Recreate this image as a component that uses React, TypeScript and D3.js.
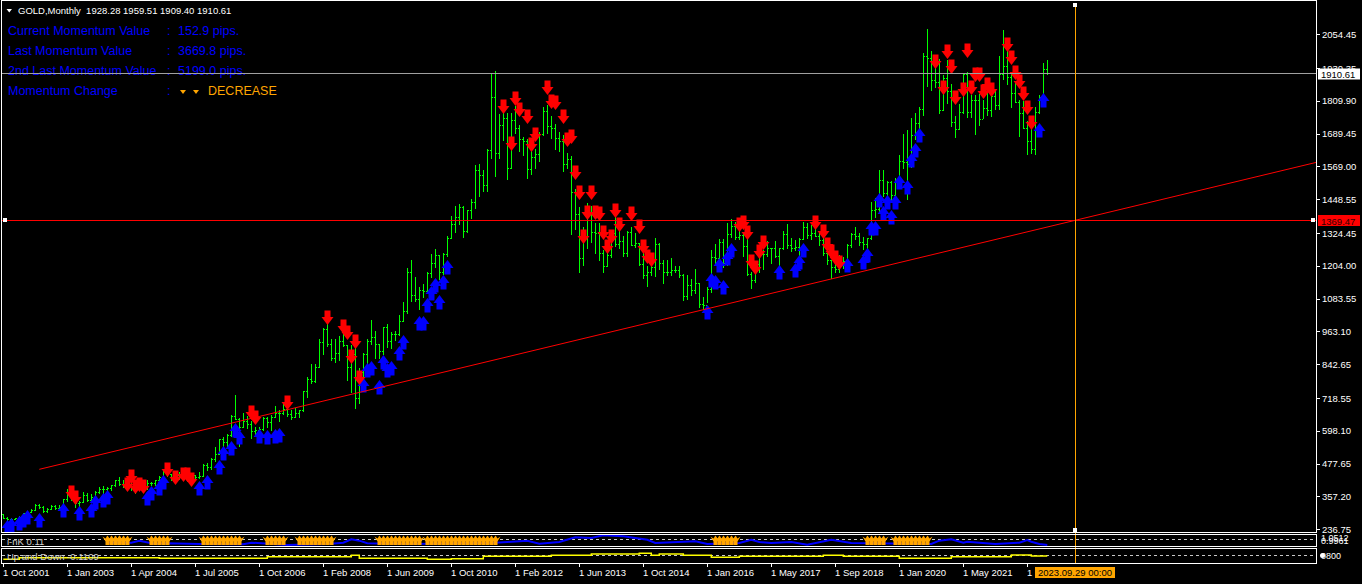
import React from 'react';
import * as d3 from 'd3';

const W = 1362;
const H = 584;

// monthly GOLD bars [open, high, low, close], Oct 2001 .. Feb 2023 (broker feed, 262 bars)
const bars: [number, number, number, number][] = [
  [293, 293, 278, 279], [279, 283, 272, 275], [275, 280, 271, 276], [276, 280, 274, 277],
  [277, 286, 276, 282], [282, 298, 282, 297], [297, 305, 288, 301], [301, 310, 300, 308],
  [308, 328, 307, 326], [326, 330, 315, 318], [318, 322, 302, 304], [304, 315, 301, 312],
  [312, 327, 311, 324], [324, 326, 313, 316], [316, 326, 314, 318], [318, 349, 316, 347],
  // 2003
  [347, 383, 342, 368], [368, 389, 343, 348], [348, 352, 320, 334], [334, 341, 320, 337],
  [337, 372, 336, 364], [364, 371, 340, 346], [346, 368, 342, 354], [354, 377, 354, 375],
  [375, 391, 370, 385], [385, 397, 370, 386], [386, 392, 378, 388], [388, 400, 381, 398],
  [398, 417, 396, 416], [416, 427, 399, 403], [403, 418, 393, 396], [396, 429, 394, 426],
  // 2004
  [426, 427, 381, 387], [387, 396, 371, 394], [394, 398, 386, 394], [394, 408, 386, 391],
  [391, 416, 386, 408], [408, 412, 400, 407], [407, 419, 399, 416], [416, 434, 412, 429],
  [429, 456, 424, 452], [452, 456, 431, 438], [438, 439, 419, 422], [422, 438, 411, 435],
  [435, 447, 423, 428], [428, 438, 421, 436], [436, 437, 414, 417], [417, 443, 414, 435],
  // 2005
  [435, 437, 418, 429], [429, 447, 426, 433], [433, 476, 432, 473], [473, 480, 456, 465],
  [465, 497, 459, 495], [495, 540, 489, 513], [513, 570, 513, 569], [569, 574, 538, 556],
  [556, 587, 535, 582], [582, 655, 580, 654], [654, 731, 640, 643], [643, 646, 543, 613],
  [613, 663, 611, 633], [633, 652, 610, 624], [624, 633, 573, 599], [599, 612, 580, 600],
  // 2006
  [600, 611, 560, 604], [604, 650, 603, 646], [646, 649, 612, 632], [632, 656, 603, 650],
  [650, 690, 649, 665], [665, 674, 636, 662], [662, 697, 660, 680], [680, 694, 652, 659],
  [659, 673, 640, 650], [650, 684, 648, 665], [665, 676, 649, 673], [673, 745, 671, 743],
  [743, 795, 723, 790], [790, 845, 775, 783], [783, 842, 777, 834], [834, 934, 833, 923],
  // 2008
  [923, 975, 882, 972], [972, 1033, 910, 916], [916, 934, 860, 864], [864, 935, 852, 885],
  [885, 945, 859, 930], [930, 988, 910, 913], [913, 915, 786, 833], [833, 912, 740, 880],
  [880, 935, 681, 718], [718, 830, 700, 815], [815, 885, 756, 882], [882, 935, 805, 928],
  [928, 1006, 917, 942], [942, 964, 866, 916], [916, 917, 865, 891], [891, 981, 880, 979],
  // 2009
  [979, 990, 908, 927], [927, 960, 904, 954], [954, 965, 931, 955], [955, 1024, 949, 1001],
  [1001, 1070, 1001, 1040], [1040, 1195, 1032, 1180], [1180, 1227, 1075, 1096], [1096, 1162, 1076, 1081],
  [1081, 1127, 1044, 1116], [1116, 1136, 1088, 1113], [1113, 1180, 1113, 1179], [1179, 1249, 1162, 1213],
  [1213, 1265, 1201, 1244], [1244, 1245, 1155, 1181], [1181, 1251, 1176, 1248], [1248, 1313, 1242, 1307],
  // 2010
  [1307, 1388, 1306, 1359], [1359, 1424, 1330, 1385], [1385, 1431, 1357, 1421], [1421, 1424, 1309, 1332],
  [1332, 1411, 1330, 1409], [1409, 1448, 1381, 1439], [1439, 1575, 1417, 1556], [1556, 1577, 1462, 1536],
  [1536, 1556, 1478, 1500], [1500, 1632, 1478, 1628], [1628, 1913, 1600, 1826], [1826, 1921, 1535, 1620],
  [1620, 1761, 1600, 1722], [1722, 1804, 1668, 1746], [1746, 1764, 1523, 1565], [1565, 1764, 1563, 1738],
  // 2012
  [1738, 1791, 1692, 1710], [1710, 1720, 1627, 1669], [1669, 1676, 1613, 1664], [1664, 1669, 1527, 1560],
  [1560, 1640, 1540, 1604], [1604, 1634, 1564, 1614], [1614, 1694, 1589, 1688], [1688, 1788, 1686, 1772],
  [1772, 1796, 1693, 1719], [1719, 1755, 1672, 1711], [1711, 1724, 1635, 1675], [1675, 1697, 1626, 1663],
  [1663, 1684, 1554, 1578], [1578, 1617, 1562, 1595], [1595, 1607, 1321, 1476], [1476, 1488, 1338, 1393],
  // 2013
  [1393, 1420, 1180, 1234], [1234, 1348, 1207, 1313], [1313, 1434, 1271, 1395], [1395, 1425, 1291, 1327],
  [1327, 1362, 1251, 1323], [1323, 1361, 1227, 1250], [1250, 1262, 1181, 1202], [1202, 1280, 1202, 1244],
  [1244, 1332, 1238, 1326], [1326, 1392, 1277, 1284], [1284, 1331, 1268, 1295], [1295, 1315, 1240, 1250],
  [1250, 1332, 1240, 1327], [1327, 1345, 1281, 1282], [1282, 1323, 1273, 1287], [1287, 1288, 1206, 1210],
  // 2014
  [1210, 1255, 1161, 1171], [1171, 1204, 1131, 1182], [1182, 1239, 1170, 1199], [1199, 1307, 1167, 1283],
  [1283, 1287, 1191, 1213], [1213, 1225, 1142, 1183], [1183, 1224, 1170, 1183], [1183, 1232, 1169, 1190],
  [1190, 1205, 1180, 1190], [1190, 1205, 1162, 1172], [1172, 1175, 1077, 1095], [1095, 1170, 1084, 1134],
  [1134, 1157, 1098, 1115], [1115, 1191, 1106, 1142], [1142, 1143, 1053, 1065], [1065, 1088, 1046, 1061],
  // 2016
  [1061, 1127, 1071, 1118], [1118, 1263, 1107, 1238], [1238, 1283, 1208, 1234], [1234, 1304, 1208, 1293],
  [1293, 1303, 1200, 1215], [1215, 1362, 1208, 1322], [1322, 1375, 1310, 1350], [1350, 1367, 1301, 1309],
  [1309, 1352, 1302, 1316], [1316, 1326, 1241, 1277], [1277, 1338, 1171, 1173], [1173, 1180, 1123, 1152],
  [1152, 1220, 1146, 1211], [1211, 1264, 1180, 1249], [1249, 1262, 1194, 1249], [1249, 1296, 1241, 1268],
  // 2017
  [1268, 1270, 1214, 1268], [1268, 1296, 1237, 1242], [1242, 1270, 1205, 1269], [1269, 1331, 1265, 1322],
  [1322, 1357, 1271, 1280], [1280, 1306, 1260, 1271], [1271, 1299, 1264, 1275], [1275, 1307, 1236, 1303],
  [1303, 1366, 1302, 1345], [1345, 1362, 1307, 1318], [1318, 1356, 1303, 1325], [1325, 1366, 1315, 1315],
  [1315, 1326, 1282, 1298], [1298, 1309, 1245, 1253], [1253, 1266, 1211, 1224], [1224, 1227, 1160, 1201],
  // 2018
  [1201, 1214, 1180, 1192], [1192, 1243, 1182, 1215], [1215, 1237, 1196, 1222], [1222, 1284, 1221, 1282],
  [1282, 1326, 1275, 1321], [1321, 1347, 1303, 1313], [1313, 1324, 1281, 1292], [1292, 1310, 1266, 1284],
  [1284, 1306, 1267, 1305], [1305, 1439, 1301, 1409], [1409, 1453, 1382, 1413], [1413, 1555, 1400, 1520],
  [1520, 1557, 1459, 1472], [1472, 1517, 1458, 1511], [1511, 1516, 1445, 1464], [1464, 1525, 1459, 1517],
  // 2020
  [1517, 1611, 1517, 1589], [1589, 1689, 1563, 1585], [1585, 1704, 1451, 1577], [1577, 1747, 1567, 1686],
  [1686, 1765, 1670, 1730], [1730, 1789, 1671, 1781], [1781, 1984, 1757, 1975], [1975, 2075, 1863, 1967],
  [1967, 1992, 1849, 1886], [1886, 1933, 1860, 1879], [1879, 1965, 1764, 1776], [1776, 1906, 1775, 1895],
  [1895, 1959, 1803, 1848], [1848, 1872, 1717, 1734], [1734, 1756, 1677, 1708], [1708, 1798, 1705, 1769],
  // 2021
  [1769, 1913, 1766, 1907], [1907, 1917, 1751, 1770], [1770, 1833, 1750, 1814], [1814, 1832, 1688, 1814],
  [1814, 1835, 1722, 1743], [1743, 1814, 1746, 1783], [1783, 1877, 1759, 1775], [1775, 1831, 1753, 1829],
  [1829, 1853, 1780, 1796], [1796, 1974, 1780, 1909], [1909, 2070, 1890, 1937], [1937, 1998, 1872, 1897],
  [1897, 1910, 1787, 1838], [1838, 1880, 1805, 1807], [1807, 1814, 1681, 1766], [1766, 1808, 1709, 1711],
  // 2022
  [1711, 1735, 1615, 1661], [1661, 1729, 1617, 1633], [1633, 1786, 1616, 1768], [1768, 1833, 1765, 1824],
  [1824, 1949, 1823, 1928], [1928.28, 1959.51, 1909.4, 1910.61],
];

const timeTicks: [number, string][] = [
  [0, '1 Oct 2001'], [16, '1 Jan 2003'], [32, '1 Apr 2004'], [48, '1 Jul 2005'],
  [64, '1 Oct 2006'], [80, '1 Feb 2008'], [96, '1 Jun 2009'], [112, '1 Oct 2010'],
  [128, '1 Feb 2012'], [144, '1 Jun 2013'], [160, '1 Oct 2014'], [176, '1 Jan 2016'],
  [192, '1 May 2017'], [208, '1 Sep 2018'], [224, '1 Jan 2020'], [240, '1 May 2021'],
  [256, '1 Sep 2022'],
];

const priceTicks = [
  2054.45, 1930.35, 1809.9, 1689.45, 1569.0, 1448.55, 1324.45, 1204.0,
  1083.55, 963.1, 842.65, 718.55, 598.1, 477.65, 357.2, 236.75,
];

// signal arrows [bar, price]
const upArrows: [number, number][] = [
  [1, 245], [2, 252], [4, 260], [5, 271], [6, 282], [9, 271], [15, 307], [19, 296], [22, 307],
  [23, 337], [25, 344], [26, 355], [36, 351], [37, 370], [39, 388], [40, 410], [49, 388],
  [51, 410], [54, 465], [55, 517], [57, 535], [58, 601], [59, 576], [64, 580], [66, 575],
  [68, 580], [69, 582], [90, 767], [91, 822], [92, 829], [94, 759], [95, 851], [96, 822],
  [97, 829], [99, 884], [100, 924], [104, 994], [105, 994], [106, 1060], [107, 1104],
  [108, 1134], [109, 1071], [110, 1145], [111, 1200], [176, 1035], [177, 1152], [178, 1145],
  [179, 1207], [180, 1126], [181, 1233], [182, 1262], [194, 1181], [198, 1189], [199, 1218],
  [200, 1262], [211, 1207], [215, 1218], [216, 1244], [217, 1343], [218, 1343], [219, 1446],
  [220, 1398], [221, 1439], [222, 1383], [223, 1439], [224, 1512], [226, 1494], [227, 1593],
  [228, 1630], [229, 1685], [259, 1703], [260, 1813],
];

const downArrows: [number, number][] = [
  [17, 370], [18, 351], [31, 399], [32, 429], [33, 392], [34, 399], [35, 392], [41, 454],
  [43, 425], [45, 436], [46, 436], [47, 418], [62, 664], [63, 645], [71, 700], [81, 1013],
  [85, 980], [86, 957], [87, 869], [88, 924], [89, 792], [125, 1786], [127, 1652], [128, 1818],
  [129, 1776], [131, 1751], [132, 1648], [133, 1685], [136, 1857], [137, 1807], [138, 1802],
  [140, 1752], [141, 1666], [142, 1678], [143, 1546], [144, 1472], [145, 1310], [146, 1398],
  [147, 1472], [148, 1398], [149, 1394], [150, 1325], [151, 1273], [152, 1310], [153, 1406],
  [154, 1354], [157, 1394], [159, 1347], [160, 1273], [161, 1237], [162, 1226], [184, 1354],
  [185, 1361], [186, 1325], [187, 1218], [188, 1196], [189, 1255], [190, 1288], [203, 1361],
  [205, 1328], [206, 1281], [207, 1255], [208, 1233], [209, 1215], [233, 1954], [235, 1856],
  [236, 1991], [237, 1935], [238, 1819], [240, 1850], [241, 1994], [242, 1856], [243, 1905],
  [244, 1905], [245, 1844], [246, 1868], [247, 1850], [251, 2015], [252, 1966], [253, 1911],
  [254, 1880], [255, 1835], [256, 1783], [257, 1728],
];

const trendLine: [number, number][] = [[9, 457], [328.2, 1584]];
const levelPrice = 1369.47;
const lastPrice = 1910.61;
const vLineBar = 268;

const infoRows: [string, string][] = [
  ['Current Momentum Value', '152.9 pips.'],
  ['Last Momentum Value', '3669.8 pips.'],
  ['2nd Last Momentum Value', '5199.0 pips.'],
];

// i-nK sub window
const nkLine: [number, number][] = [
  [26, 0.3], [32, 0.32], [34, 0.51], [38, 0.19], [41, 0.26], [49, 0.19], [60, 0.16], [62, 0.32],
  [71, 0.1], [81, 0.19], [85, 0.32], [87, 0.64], [89, 0.51], [91, 0.26], [102, 0.19], [122, 0.29],
  [126, 0.38], [131, 0.51], [134, 0.22], [139, 0.38], [143, 0.83], [147, 0.76], [150, 1.02],
  [155, 0.93], [161, 0.6], [163, 0.29], [173, 0.45], [176, 0.19], [184, 0.29], [187, 0.6],
  [189, 0.38], [192, 0.29], [197, 0.38], [201, 0.12], [207, 0.6], [212, 0.29], [232, 0.19],
  [234, 0.51], [237, 0.64], [240, 0.32], [241, 0.41], [248, 0.19], [254, 0.32], [256, 0.57],
  [257, 0.41], [259, 0.19], [261, 0.1],
];
const nkSignals: [number, number][] = [
  [26, 29], [29, 31], [37, 41], [50, 59], [66, 70], [74, 82], [94, 97], [98, 104],
  [106, 123], [178, 183], [216, 220], [223, 231],
];

// Up and Down sub window
const udLine: [number, number][] = [
  [0, 0.27], [4, 0.38], [39, 0.34], [66, 0.45], [87, 0.55], [89, 0.34], [106, 0.27], [112, 0.32],
  [120, 0.48], [137, 0.55], [147, 0.64], [159, 0.68], [162, 0.55], [164, 0.64], [170, 0.55],
  [177, 0.41], [184, 0.48], [205, 0.55], [210, 0.48], [224, 0.34], [237, 0.45], [252, 0.57],
  [257, 0.5], [261, 0.5],
];

const FONT = '"Liberation Sans", Arial, sans-serif';
const RIGHT = 1316.5;

// thick wingdings-like arrows
const downPath = (cx: number, cy: number) =>
  `M${cx - 3},${cy - 7.5}H${cx + 3}V${cy - 1}H${cx + 6}L${cx},${cy + 7}L${cx - 6},${cy - 1}H${cx - 3}Z`;
const upPath = (cx: number, cy: number) =>
  `M${cx - 3},${cy + 7.5}H${cx + 3}V${cy + 1}H${cx + 6}L${cx},${cy - 7}L${cx - 6},${cy + 1}H${cx - 3}Z`;
// spiky glyph of the i-nK signal
const signalPath = (cx: number, cy: number) =>
  `M${cx - 2},${cy + 4.5}H${cx + 2}V${cy + 1}L${cx + 5},${cy - 4}L${cx + 2},${cy - 2}L${cx},${cy - 5}` +
  `L${cx - 2},${cy - 2}L${cx - 5},${cy - 4}L${cx - 2},${cy + 1}Z`;

export default function App() {
  const x = d3.scaleLinear().domain([0, 261]).range([3.3, 1047.3]);
  const y = d3.scaleLinear().domain([236.75, 2054.45]).range([529.3, 34.3]);
  const nkY = d3.scaleLinear().domain([0, 1.0512]).range([546, 535]);
  const udY = d3.scaleLinear().domain([0, 1]).range([563.3, 548.7]);
  const px = (i: number) => Math.round(x(i));

  const nkPath = d3.line<[number, number]>().x(d => x(d[0])).y(d => nkY(d[1]))(nkLine) || '';
  const udPath =
    d3.line<[number, number]>().x(d => x(d[0])).y(d => udY(d[1])).curve(d3.curveStepAfter)(udLine) || '';

  const signalBars: number[] = [];
  nkSignals.forEach(([a, b]) => d3.range(a, b + 1).forEach(i => signalBars.push(i)));

  const levelY = Math.floor(y(levelPrice)) + 0.5;
  const lastY = Math.round(y(lastPrice)) + 0.5;
  const vx = px(vLineBar) + 0.5;

  return (
    <div style={{ position: 'fixed', left: 0, top: 0, width: W, height: H, background: '#000' }}>
      <svg width={W} height={H} style={{ display: 'block' }} fontFamily={FONT}>
        <defs>
          <clipPath id="mainClip">
            <rect x={2} y={1} width={1314} height={531} />
          </clipPath>
          <clipPath id="sub1Clip">
            <rect x={2} y={535} width={1314} height={11} />
          </clipPath>
        </defs>
        <rect width={W} height={H} fill="#000" />

        {/* header + momentum info */}
        <path d="M6.5,9H12L9.25,12.5Z" fill="#fff" />
        <text x={18} y={13.5} fontSize={9.5} fill="#fff" xmlSpace="preserve">
          {'GOLD,Monthly  1928.28 1959.51 1909.40 1910.61'}
        </text>
        {infoRows.map(([k, v], i) => (
          <g key={k} fontSize={12.5} fill="#0000ff">
            <text x={8} y={35 + i * 20}>{k}</text>
            <text x={167} y={35 + i * 20}>:</text>
            <text x={178} y={35 + i * 20}>{v}</text>
          </g>
        ))}
        <g fontSize={12.5}>
          <text x={8} y={95} fill="#0000ff">Momentum Change</text>
          <text x={167} y={95} fill="#0000ff">:</text>
          <path d="M180,90H186L183,94Z M193,90H199L196,94Z" fill="#ffa500" />
          <text x={208} y={95} fill="#ffa500">DECREASE</text>
        </g>

        <g clipPath="url(#mainClip)">
          {/* OHLC bars */}
          <g fill="#00ff00" shapeRendering="crispEdges">
            {bars.map(([o, h, l, c], i) => {
              const bx = px(i);
              const top = Math.round(y(h));
              const bot = Math.round(y(l));
              return (
                <g key={i}>
                  <rect x={bx} y={top} width={1} height={Math.max(1, bot - top + 1)} />
                  <rect x={bx - 1} y={Math.round(y(o))} width={1} height={1} />
                  <rect x={bx + 1} y={Math.round(y(c))} width={1} height={1} />
                </g>
              );
            })}
          </g>

          {/* arrows */}
          {upArrows.map(([i, p], k) => (
            <path key={'u' + k} d={upPath(px(i) + 0.5, Math.round(y(p)))} fill="#0000ff" />
          ))}
          {downArrows.map(([i, p], k) => (
            <path key={'d' + k} d={downPath(px(i) + 0.5, Math.round(y(p)))} fill="#ff0000" />
          ))}

          {/* objects */}
          <line
            x1={x(trendLine[0][0])}
            y1={y(trendLine[0][1])}
            x2={x(trendLine[1][0])}
            y2={y(trendLine[1][1])}
            stroke="#ff0000"
            strokeWidth={1}
          />
          <line x1={2} x2={RIGHT} y1={levelY} y2={levelY} stroke="#ff0000" strokeWidth={1} shapeRendering="crispEdges" />
          <line x1={2} x2={RIGHT} y1={lastY} y2={lastY} stroke="#a0a0a0" strokeWidth={1} shapeRendering="crispEdges" />
        </g>
        <rect x={3} y={levelY - 2.5} width={4} height={4} fill="#fff" />
        <rect x={1311} y={levelY - 2.5} width={4} height={4} fill="#fff" />

        {/* sub window 1: i-nK */}
        <line x1={2} x2={RIGHT} y1={539.5} y2={539.5} stroke="#c8c8c8" strokeDasharray="3,3" shapeRendering="crispEdges" />
        <g clipPath="url(#sub1Clip)">
          <path d={nkPath} fill="none" stroke="#0000ff" strokeWidth={2} />
          {signalBars.map((i, k) => (
            <path key={k} d={signalPath(px(i) + 0.5, 540.5)} fill="#ffa500" />
          ))}
        </g>
        <text x={7} y={545} fontSize={9.5} fill="#d0d0d0">i-nK 0.11</text>

        {/* sub window 2: Up and Down */}
        <line x1={2} x2={RIGHT} y1={555.5} y2={555.5} stroke="#c8c8c8" strokeDasharray="3,3" shapeRendering="crispEdges" />
        <path d={udPath} fill="none" stroke="#ffff00" strokeWidth={1.5} />
        <text x={7} y={560} fontSize={9.5} fill="#d0d0d0">Up and Down -0.1109</text>

        {/* vertical line object */}
        <line x1={vx} x2={vx} y1={4} y2={563} stroke="#ffa500" strokeWidth={1} shapeRendering="crispEdges" />
        <rect x={vx - 2.5} y={3} width={4} height={4} fill="#fff" />
        <rect x={vx - 2.5} y={528} width={4} height={4} fill="#fff" />

        {/* frames */}
        <g fill="none" stroke="#fff" strokeWidth={1} shapeRendering="crispEdges">
          <rect x={1.5} y={0.5} width={RIGHT - 1.5} height={532} />
          <rect x={1.5} y={534.5} width={RIGHT - 1.5} height={12} />
          <rect x={1.5} y={548.5} width={RIGHT - 1.5} height={15} />
        </g>

        {/* price axis */}
        <g fontSize={9.5} fill="#fff">
          {priceTicks.map(p => (
            <g key={p}>
              <line x1={RIGHT} x2={1320} y1={Math.round(y(p)) + 0.5} y2={Math.round(y(p)) + 0.5} stroke="#fff" shapeRendering="crispEdges" />
              <text x={1322} y={y(p) + 3.5}>{p.toFixed(2)}</text>
            </g>
          ))}
        </g>
        <rect x={1318} y={lastY - 5} width={42} height={11} fill="#fff" />
        <text x={1321} y={lastY + 4} fontSize={9.5} fill="#000">{lastPrice.toFixed(2)}</text>
        <rect x={1318} y={levelY - 5.5} width={42} height={11} fill="#ff0000" />
        <text x={1321} y={levelY + 4} fontSize={9.5} fill="#300000">{levelPrice.toFixed(2)}</text>

        <g fontSize={9} fill="#fff">
          <text x={1321} y={541}>1.0512</text>
          <text x={1321} y={544}>0.9961</text>
          <circle cx={1322.5} cy={555.5} r={2.5} fill="#fff" />
          <text x={1321} y={559}>0800</text>
        </g>

        {/* time axis */}
        <g fontSize={9.5} fill="#fff">
          {timeTicks.map(([i, label]) => (
            <g key={label}>
              <line x1={px(i) + 0.5} x2={px(i) + 0.5} y1={563} y2={567} stroke="#fff" shapeRendering="crispEdges" />
              <text x={px(i)} y={576}>{label}</text>
            </g>
          ))}
        </g>
        <rect x={1035} y={567} width={80} height={11} fill="#ffa500" />
        <text x={1038} y={576} fontSize={9.5} fill="#000">2023.09.29 00:00</text>
      </svg>
    </div>
  );
}
